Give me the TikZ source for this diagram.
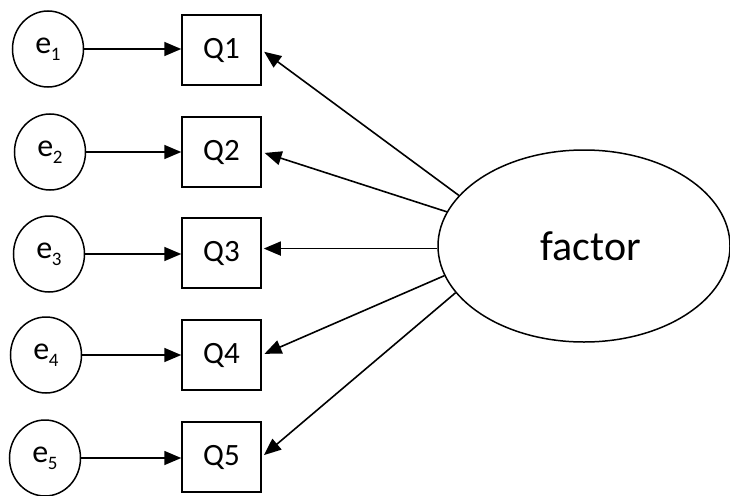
\documentclass[tikz,border=0pt]{standalone}
\usepackage{fontspec}
\setmainfont{Carlito}
\usetikzlibrary{arrows.meta,shapes.geometric}
\newcommand\esub[1]{e\kern-0.5pt\raisebox{-7pt}{\fontsize{19}{19}\selectfont #1}}
\begin{document}
\begin{tikzpicture}[x=1pt,y=-1pt,
  errnode/.style={draw, ellipse, line width=1.5pt, minimum width=71pt, minimum height=76pt, inner sep=0pt, font=\fontsize{32}{32}\selectfont},
  qbox/.style={draw, rectangle, line width=1.5pt, minimum width=79pt, minimum height=70pt, inner sep=0pt, font=\fontsize{31}{31}\selectfont},
  facnode/.style={draw, ellipse, line width=1.5pt, minimum width=292pt, minimum height=192pt, inner sep=0pt, font=\fontsize{42}{42}\selectfont},
  arr/.style={-{Triangle[length=17pt,width=14pt]}, line width=1.6pt}]
\useasboundingbox (0,0) rectangle (730,495);
\node[errnode] (e1) at (48,49) {\esub{1}};
\node[errnode] (e2) at (50,152) {\esub{2}};
\node[errnode] (e3) at (49,254) {\esub{3}};
\node[errnode] (e4) at (46,355) {\esub{4}};
\node[errnode] (e5) at (45,458) {\esub{5}};
\node[qbox] (Q1) at (221.5,50) {Q1};
\node[qbox] (Q2) at (221.5,152) {Q2};
\node[qbox] (Q3) at (221.5,253) {Q3};
\node[qbox] (Q4) at (221.5,355) {Q4};
\node[qbox] (Q5) at (221.5,457) {Q5};
\node[facnode] (fac) at (584,246) {\hspace*{14pt}factor};
\foreach \i in {1,...,5} {\draw[arr] (e\i) -- (e\i -| Q\i.west);}
\draw[arr, shorten >=3pt] (fac.158) -- (Q1.east);
\draw[arr, shorten >=3pt] (fac.166.5) -- (Q2.east);
\draw[arr, shorten >=2pt] (fac.181.6) -- (fac.181.6 -| Q3.east);
\draw[arr, shorten >=3pt] (fac.192.8) -- (Q4.east);
\draw[arr, shorten >=3pt] (fac.200.1) -- (Q5.east);
\end{tikzpicture}
\end{document}
